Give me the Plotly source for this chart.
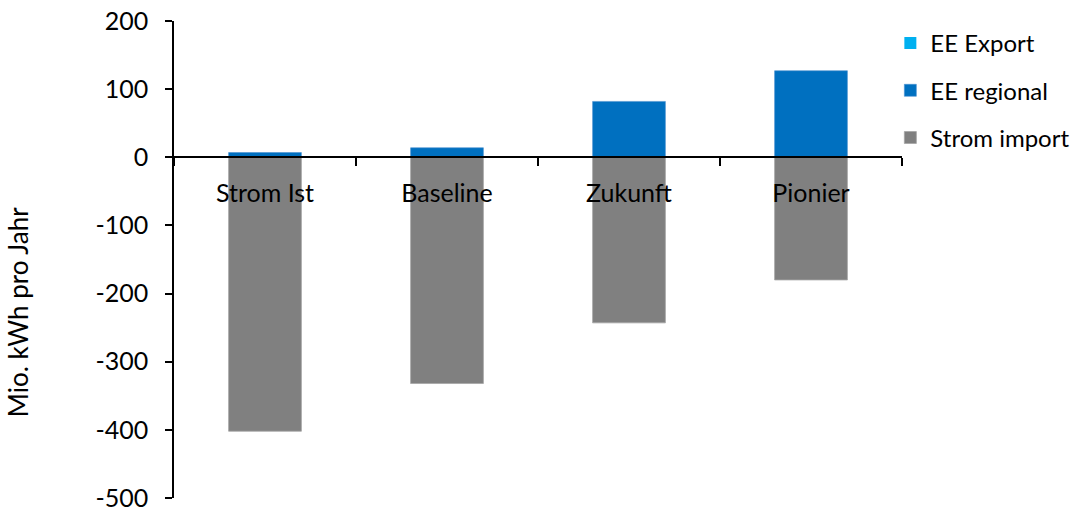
import plotly.graph_objects as go

# Scenario data (Mio. kWh pro Jahr)
categories = ["Strom Ist", "Baseline", "Zukunft", "Pionier"]
ee_export = [0, 0, 0, 0]
ee_regional = [7, 14, 82, 127]
strom_import = [-402, -332, -243, -180]

# y axis ticks, written with a plain hyphen for negatives
y_ticks = [200, 100, 0, -100, -200, -300, -400, -500]
y_tick_labels = ["200", "100", "0", "-100", "-200", "-300", "-400", "-500"]

y_min, y_max = -500, 200

FONT = "Lato, 'Open Sans', sans-serif"

fig = go.Figure()
fig.add_trace(go.Bar(x=categories, y=ee_export, name="EE Export",
                     marker=dict(color="#00B0F0", line=dict(width=0)),
                     legendgroup="a", width=0.4))
fig.add_trace(go.Bar(x=categories, y=ee_regional, name="EE regional",
                     marker=dict(color="#0070C0", line=dict(color="#4a90d0", width=0.6)),
                     legendgroup="b", width=0.4))
fig.add_trace(go.Bar(x=categories, y=strom_import, name="Strom import",
                     marker=dict(color="#808080", line=dict(color="#a6a6a6", width=0.8)),
                     legendgroup="c", width=0.4))

# x axis sits on the zero line
zero_pos = (0 - y_min) / (y_max - y_min)

fig.update_layout(
    width=1080, height=514,
    margin=dict(l=174, r=178, t=21, b=16, autoexpand=False),
    paper_bgcolor="white", plot_bgcolor="white",
    barmode="relative",
    font=dict(family=FONT, size=24, color="black"),
    showlegend=True,
    legend=dict(
        x=0.984, y=1.0, xanchor="left", yanchor="top",
        traceorder="grouped", tracegroupgap=13,
        font=dict(family=FONT, size=24, color="black"),
        bgcolor="rgba(0,0,0,0)",
    ),
    xaxis=dict(
        type="category",
        range=[-0.5, 3.5],
        anchor="free", position=zero_pos,
        automargin=False,
        showline=True, linecolor="black", linewidth=1.5,
        ticks="outside", tickson="boundaries", ticklen=8, tickwidth=1.5, tickcolor="black",
        ticklabelstandoff=14,
        tickfont=dict(family=FONT, size=25, color="black"),
        showgrid=False, zeroline=False,
    ),
    yaxis=dict(
        range=[y_min, y_max],
        tickmode="array", tickvals=y_ticks, ticktext=y_tick_labels,
        automargin=False,
        showline=True, linecolor="black", linewidth=1.5,
        ticks="outside", ticklen=7, tickwidth=1.5, tickcolor="black",
        ticklabelstandoff=12,
        tickfont=dict(family=FONT, size=25, color="black"),
        showgrid=False, zeroline=False,
    ),
    annotations=[dict(
        text="Mio. kWh pro Jahr", textangle=-90,
        xref="paper", yref="paper",
        x=-0.214, y=0.39, xanchor="center", yanchor="middle",
        showarrow=False,
        font=dict(family=FONT, size=26, color="black"),
    )],
)

fig.write_html("out.html")
